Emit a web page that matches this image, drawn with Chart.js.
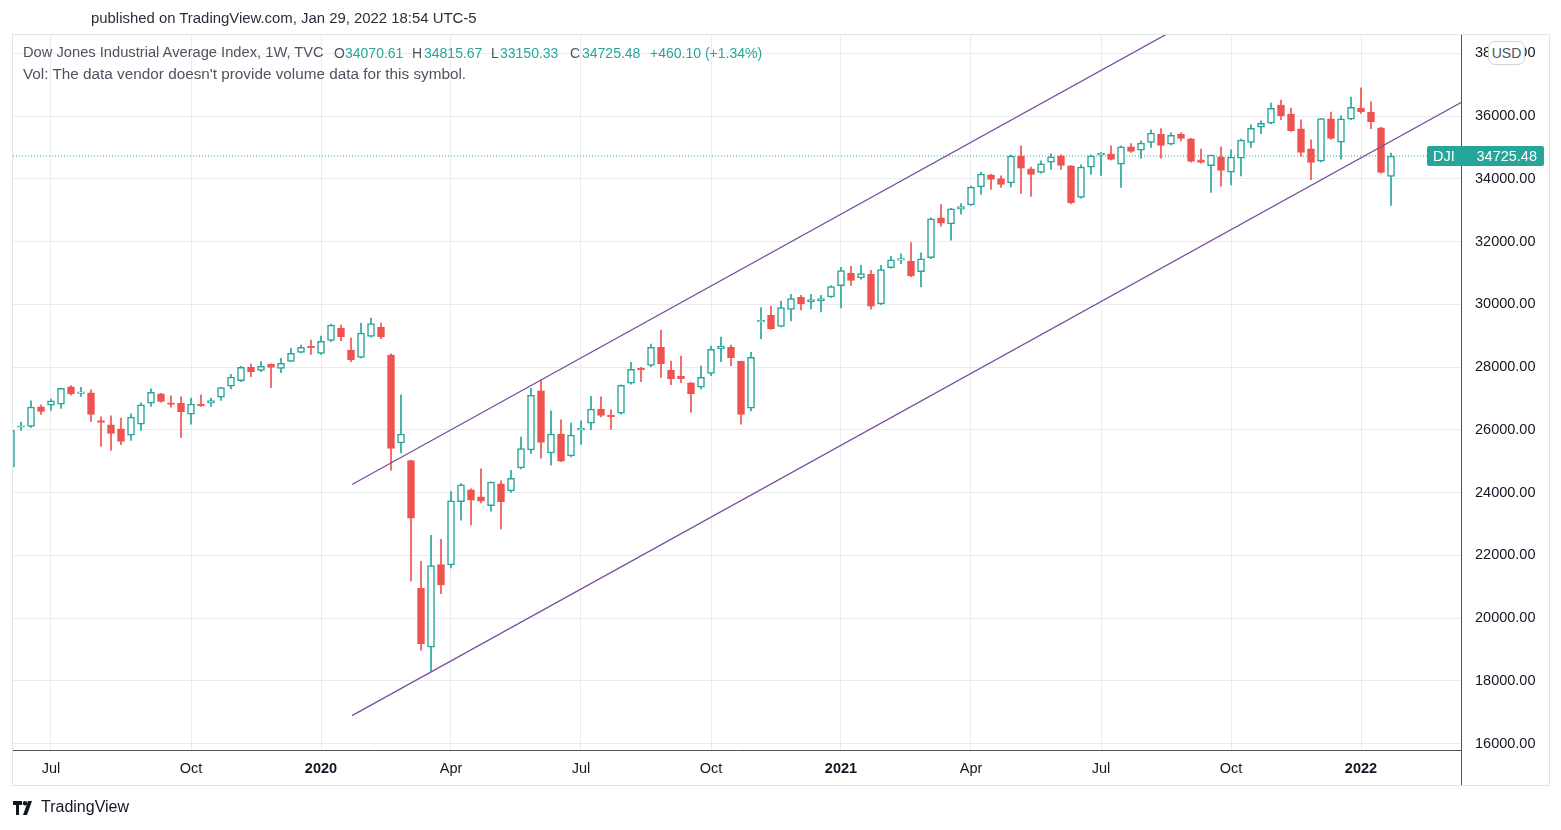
<!DOCTYPE html>
<html lang="en">
<head>
<meta charset="UTF-8">
<title>Dow Jones Industrial Average Index, 1W</title>
<script src="https://cdn.jsdelivr.net/npm/chart.js@4.4.0/dist/chart.umd.min.js"></script>
<style>
  body { margin: 0; background: #fff; font-family: 'Liberation Sans', Arial, sans-serif; }
  #wrap { position: relative; width: 1561px; height: 830px; overflow: hidden; }
  #chart { position: absolute; left: 0; top: 0; }
  .txt { position: absolute; white-space: pre; }
  .lg { position: absolute; top: 45px; white-space: pre; font-size: 14px; color: #50535e; }
  .v { color: #26a69a; }
</style>
</head>
<body>
<div id="wrap">
  <div style="position:absolute;left:12px;top:34px;width:1536px;height:750px;border:1px solid #e0e3eb;"></div>
  <div style="position:absolute;left:1461px;top:750px;width:1px;height:35px;background:#50535e;"></div>
  <canvas id="chart" width="1561" height="830"></canvas>
  <div class="txt" style="left:91px;top:10px;font-size:14.9px;color:#2a2e39;">published on TradingView.com, Jan 29, 2022 18:54 UTC-5</div>
  <div class="lg" style="left:23px;font-size:14.7px;top:44px;">Dow Jones Industrial Average Index, 1W, TVC</div>
  <div class="lg" style="left:334px;">O</div><div class="lg v" style="left:345px;">34070.61</div>
  <div class="lg" style="left:412px;">H</div><div class="lg v" style="left:424px;">34815.67</div>
  <div class="lg" style="left:491px;">L</div><div class="lg v" style="left:500px;">33150.33</div>
  <div class="lg" style="left:570px;">C</div><div class="lg v" style="left:582px;">34725.48</div>
  <div class="lg v" style="left:650px;">+460.10 (+1.34%)</div>
  <div class="txt" style="left:23px;top:65px;font-size:15.3px;color:#50535e;">Vol: The data vendor doesn't provide volume data for this symbol.</div>
  <div class="txt" style="left:1488px;top:41px;width:35px;height:22px;line-height:22px;text-align:center;font-size:14px;color:#50535e;background:#fff;border:1px solid #d1d4dc;border-radius:7px;">USD</div>
  <svg style="position:absolute;left:13px;top:801px" width="24" height="14" viewBox="0 0 24 14">
    <path d="M0 0h9v4H6v10H3V4H0z" fill="#131722"/>
    <circle cx="12" cy="2.2" r="2.2" fill="#131722"/>
    <path d="M15 0h4l-5 14h-4z" fill="#131722"/>
  </svg>
  <div class="txt" style="left:41px;top:798px;font-size:16px;color:#131722;">TradingView</div>
</div>
<script>
// weekly candles, week 0 = 2019-06-03
const opens = [24815, 26080, 26106, 26730, 26783, 26815, 27365, 27160, 27175, 26290,
  26160, 26032, 25831, 26180, 26847, 27143, 26857, 26847, 26498, 26790,
  26847, 27037, 27387, 27567, 27990, 27895, 28085, 27958, 28180, 28466,
  28650, 28434, 28847, 29239, 28540, 28308, 28974, 29270, 28382, 25578,
  25015, 20953, 19070, 21704, 21693, 23704, 24084, 23862, 23577, 24275,
  24053, 24783, 25355, 27238, 25260, 25863, 25165, 25990, 26212, 26657,
  26450, 26530, 27482, 27969, 28053, 28624, 27894, 27714, 27492, 27355,
  27799, 28582, 28624, 28180, 26688, 29440, 29652, 29292, 29832, 30223,
  30075, 30107, 30234, 30594, 30985, 30837, 30953, 30012, 31165, 31408,
  31366, 31038, 31484, 32753, 32563, 33028, 33166, 33737, 34129, 34002,
  33864, 34732, 34319, 34203, 34531, 34732, 34414, 33409, 34372, 34753,
  34785, 34468, 35018, 34912, 35155, 35420, 35103, 35420, 35272, 34605,
  34415, 34700, 34214, 34658, 35155, 35642, 35769, 36351, 36065, 35589,
  34954, 34563, 35907, 35166, 35896, 36256, 36129, 35621, 34070.61];
const highs = [26000, 26245, 26920, 26795, 26975, 27330, 27408, 27355, 27270, 26413,
  26445, 26370, 26508, 26857, 27302, 27160, 27080, 27048, 27006, 27112,
  27006, 27355, 27767, 28020, 28096, 28170, 28100, 28276, 28593, 28699,
  28858, 28985, 29366, 29334, 28921, 29397, 29556, 29397, 28420, 27112,
  25030, 21810, 22635, 22508, 24032, 24285, 24116, 24751, 24338, 24370,
  24709, 25768, 27323, 27588, 26604, 26318, 26212, 26286, 27069, 27048,
  26636, 27430, 28148, 27990, 28730, 29175, 28191, 28350, 27500, 28032,
  28667, 28952, 28698, 28190, 28466, 29895, 29938, 30096, 30319, 30287,
  30319, 30287, 30594, 31176, 31207, 31239, 31080, 31239, 31525, 31609,
  31969, 31641, 32753, 33177, 33060, 33208, 33769, 34213, 34140, 34097,
  34753, 35049, 34372, 34573, 34795, 34764, 34420, 34446, 34753, 34838,
  35049, 35050, 35124, 35208, 35557, 35600, 35462, 35462, 35290, 34944,
  34753, 35018, 34922, 35261, 35716, 35843, 36414, 36510, 36256, 35875,
  35240, 35917, 36129, 36002, 36605, 36901, 36457, 35640, 34815.67];
const lows = [24680, 25980, 26075, 26487, 26614, 26680, 27100, 27059, 26265, 25472,
  25340, 25524, 25662, 25980, 26741, 26880, 26720, 25757, 26180, 26741,
  26741, 26932, 27300, 27535, 27694, 27853, 27345, 27821, 28170, 28450,
  28403, 28400, 28805, 28837, 28170, 28290, 28950, 28900, 24709, 25260,
  21185, 18964, 18297, 20773, 21600, 23122, 22963, 23672, 23407, 22836,
  24000, 24750, 25249, 25091, 24868, 24980, 25133, 25535, 26000, 26413,
  26011, 26500, 27450, 27535, 28000, 27672, 27440, 27503, 26551, 27300,
  27725, 28170, 28043, 26180, 26600, 28901, 29200, 29280, 29472, 29821,
  29853, 29758, 30220, 29885, 30604, 30800, 29843, 29990, 31150, 31292,
  30880, 30551, 31450, 32489, 32045, 32870, 33150, 33504, 33663, 33727,
  33737, 33536, 33441, 34180, 34298, 34298, 33200, 33380, 34140, 34108,
  34600, 33727, 34838, 34658, 34997, 34658, 35080, 35208, 34530, 34500,
  33568, 33759, 33801, 34087, 34997, 35441, 35750, 35885, 35505, 34711,
  33970, 34540, 35250, 34626, 35880, 36086, 35600, 34180, 33150.33];
const closes = [25984, 26110, 26720, 26583, 26921, 27323, 27150, 27192, 26485, 26230,
  25886, 25630, 26403, 26794, 27196, 26900, 26805, 26573, 26816, 26762,
  26932, 27347, 27681, 27990, 27853, 28022, 27990, 28117, 28434, 28625,
  28615, 28815, 29334, 28963, 28233, 29080, 29387, 28963, 25408, 25864,
  23185, 19186, 21672, 21058, 23735, 24243, 23756, 23725, 24330, 23704,
  24455, 25397, 27101, 25598, 25863, 24996, 25831, 26053, 26657, 26455,
  26420, 27418, 27926, 27916, 28624, 28106, 27630, 27630, 27154, 27672,
  28561, 28667, 28297, 26487, 28307, 29480, 29218, 29895, 30181, 30012,
  30149, 30181, 30562, 31070, 30763, 30975, 29938, 31102, 31419, 31451,
  30900, 31451, 32722, 32584, 33039, 33113, 33737, 34150, 33981, 33822,
  34721, 34340, 34140, 34478, 34700, 34425, 33240, 34372, 34732, 34817,
  34616, 35018, 34870, 35134, 35452, 35060, 35388, 35282, 34552, 34521,
  34753, 34267, 34690, 35229, 35610, 35769, 36245, 36012, 35536, 34838,
  34521, 35917, 35282, 35907, 36277, 36139, 35822, 34203, 34725.48];

// first candle of each month shown on the time axis
const tickWeeks = [4, 18, 31, 44, 57, 70, 83, 96, 109, 122, 135];
const tickLabels = ['Jul', 'Oct', '2020', 'Apr', 'Jul', 'Oct', '2021', 'Apr', 'Jul', 'Oct', '2022'];
const priceTicks = [16000, 18000, 20000, 22000, 24000, 26000, 28000, 30000, 32000, 34000, 36000, 38000];

// drawn channel (week index, price)
const channelUpper = [[34.1, 24254], [145, 43797]];
const channelLower = [[34.1, 16888], [145, 36429]];
const lastClose = 34725.48;

const UP = '#26a69a';
const DOWN = '#ef5350';
const GRID = '#e8ecf1';
const TEXT = '#50535e';
const FONT = '"Liberation Sans", Arial, sans-serif';

const isUp = closes.map((c, i) => c >= opens[i]);

const bodies = opens.map((o, i) => ({ x: i, y: [o, closes[i]] }));
const wicks = lows.map((l, i) => ({ x: i, y: [l, highs[i]] }));

const priceBadge = {
    id: 'priceBadge',
    afterDraw(chart) {
        const { ctx } = chart;
        const y = chart.scales.y.getPixelForValue(lastClose);
        ctx.save();
        ctx.fillStyle = UP;
        ctx.beginPath();
        ctx.roundRect(1427, y - 10, 117, 20, 2);
        ctx.fill();
        ctx.fillStyle = '#fff';
        ctx.font = '14.5px ' + FONT;
        ctx.textBaseline = 'middle';
        ctx.textAlign = 'left';
        ctx.fillText('DJI', 1433, y + 1);
        ctx.textAlign = 'right';
        ctx.fillText(lastClose.toFixed(2), 1537, y + 1);
        ctx.restore();
    }
};

new Chart(document.getElementById('chart'), {
    type: 'bar',
    data: {
        datasets: [
            {
                type: 'line',
                data: channelUpper.map(p => ({ x: p[0], y: p[1] })),
                borderColor: '#7b4f9e',
                borderWidth: 1.3,
                pointRadius: 0,
                order: 0
            },
            {
                type: 'line',
                data: channelLower.map(p => ({ x: p[0], y: p[1] })),
                borderColor: '#7b4f9e',
                borderWidth: 1.3,
                pointRadius: 0,
                order: 0
            },
            {
                type: 'line',
                data: [{ x: 0.2, y: lastClose }, { x: 145, y: lastClose }],
                borderColor: UP,
                borderWidth: 1,
                borderDash: [1, 2],
                pointRadius: 0,
                order: 3
            },
            {
                data: bodies,
                grouped: false,
                barThickness: 7,
                minBarLength: 1.5,
                borderWidth: 1.5,
                borderSkipped: false,
                backgroundColor: isUp.map(u => u ? '#ffffff' : DOWN),
                borderColor: isUp.map(u => u ? UP : DOWN),
                order: 1
            },
            {
                data: wicks,
                grouped: false,
                barThickness: 1,
                borderWidth: 0,
                backgroundColor: isUp.map(u => u ? UP : DOWN),
                order: 2
            }
        ]
    },
    options: {
        responsive: false,
        animation: false,
        layout: { padding: { left: 13, top: 35, right: 13, bottom: 45 } },
        plugins: { legend: { display: false }, tooltip: { enabled: false } },
        scales: {
            x: {
                type: 'linear',
                min: 0.2,
                max: 145,
                offset: false,
                grid: { color: GRID, drawTicks: false, offset: false },
                border: { color: TEXT, width: 1 },
                afterBuildTicks: s => { s.ticks = tickWeeks.map(v => ({ value: v })); },
                afterFit: s => { s.height = 35; },
                ticks: {
                    autoSkip: false,
                    maxRotation: 0,
                    padding: 10,
                    color: '#131722',
                    font: ctx => ({
                        size: 14.5,
                        family: FONT,
                        weight: ctx.tick && /^\d+$/.test(tickLabels[tickWeeks.indexOf(ctx.tick.value)]) ? 'bold' : 'normal'
                    }),
                    callback: v => tickLabels[tickWeeks.indexOf(v)]
                }
            },
            y: {
                position: 'right',
                min: 15793,
                max: 38582,
                grid: { color: GRID, drawTicks: false },
                border: { color: TEXT, width: 1 },
                afterBuildTicks: s => { s.ticks = priceTicks.map(v => ({ value: v })); },
                afterFit: s => { s.width = 87; },
                ticks: {
                    padding: 14,
                    color: '#131722',
                    font: { size: 14.5, family: FONT },
                    callback: v => v.toFixed(2)
                }
            }
        }
    },
    plugins: [priceBadge]
});
</script>
</body>
</html>
